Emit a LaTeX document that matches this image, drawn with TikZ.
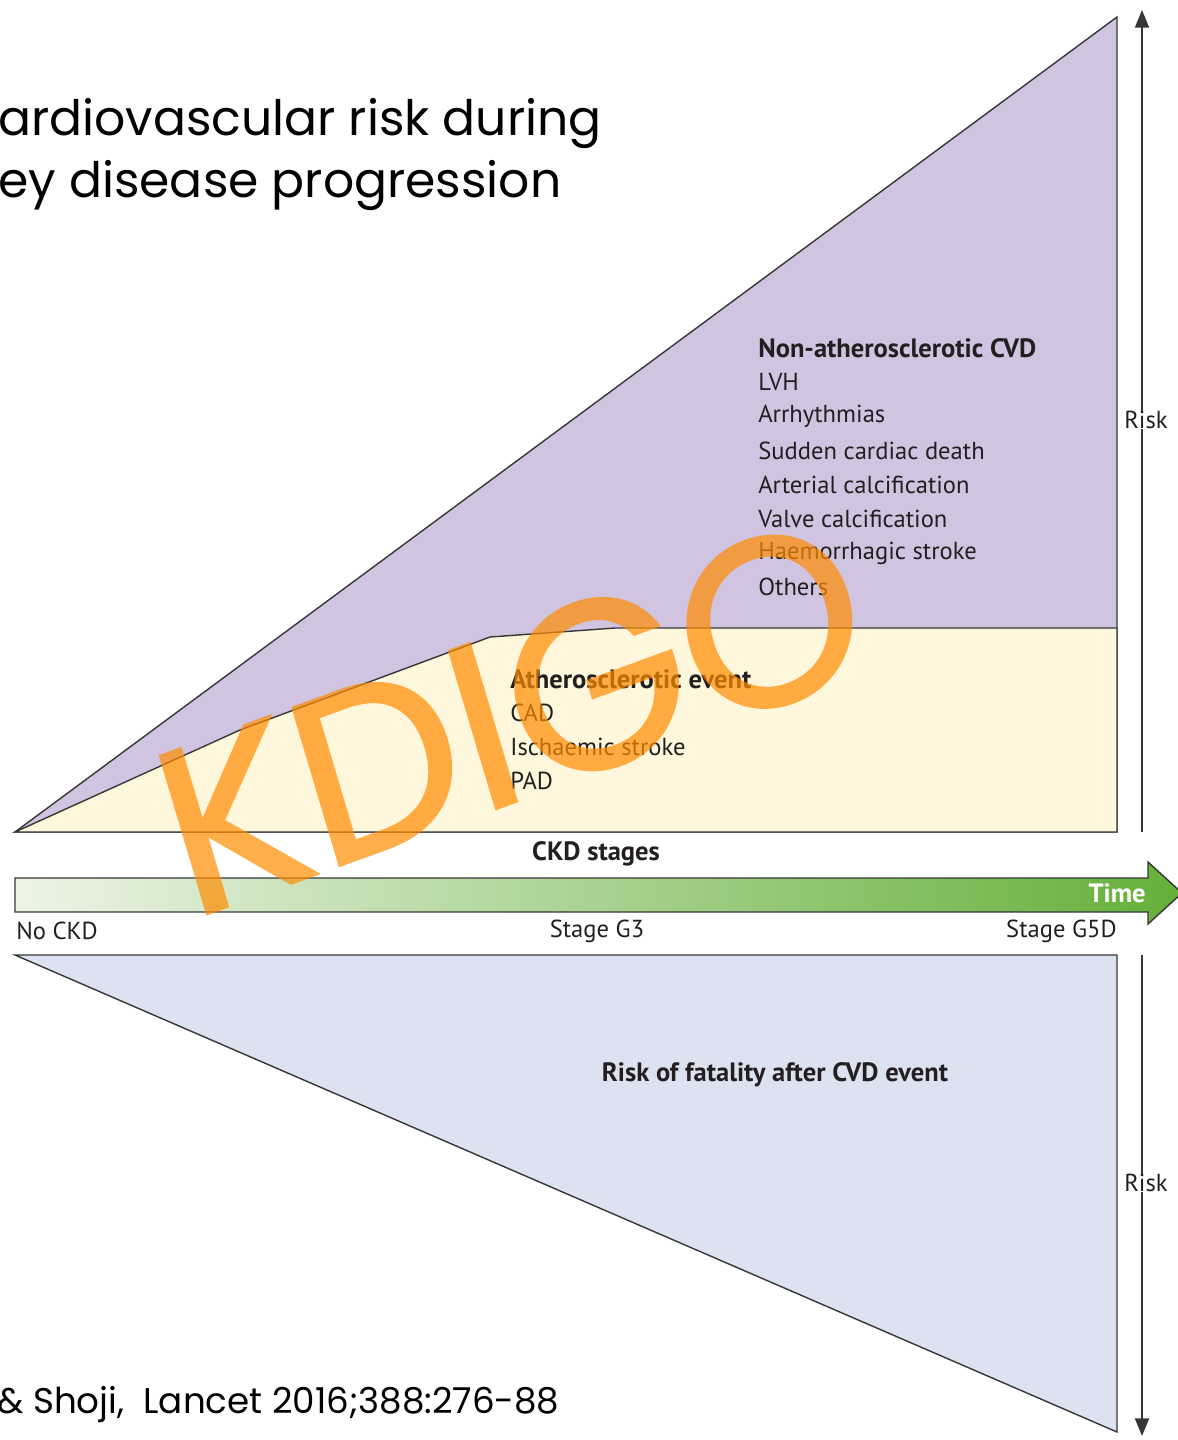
\documentclass[tikz,border=0pt]{standalone}
\usepackage{fontspec}
\setmainfont{PT Sans}
\newfontfamily\titlefont{Poppins}
\newfontfamily\markfont[FakeBold=1.2]{Poppins}
\usetikzlibrary{arrows.meta,calc}

\definecolor{nonathero}{RGB}{209,196,224}
\definecolor{athero}{RGB}{255,247,219}
\definecolor{fatal}{RGB}{221,226,240}
\definecolor{barleft}{RGB}{236,244,230}
\definecolor{barright}{RGB}{100,176,58}
\definecolor{edgegray}{RGB}{55,55,55}
\definecolor{txtdark}{RGB}{35,31,32}
\definecolor{kdigo}{RGB}{255,140,0}

\begin{document}
\begin{tikzpicture}[x=0.02cm,y=-0.02cm,
  outline/.style={draw=edgegray,line width=0.8pt},
  lbl/.style={anchor=west,inner sep=0pt,text=txtdark,font=\fontsize{14}{16}\selectfont},
  hdr/.style={lbl,font=\bfseries\fontsize{15.1}{17}\selectfont},
  riskarrow/.style={edgegray,line width=0.8pt,-{Triangle[length=10pt,width=8pt]}}]

\useasboundingbox (0,0) rectangle (1177,1440);

% rising risk of CVD
\filldraw[outline,fill=nonathero] (15,832) -- (1117,17) -- (1117,832) -- cycle;
\filldraw[outline,fill=athero] (15,832) -- (240,730) -- (490,637) -- (615,628) -- (1117,628) -- (1117,832) -- cycle;

\node[hdr] (nonath) at (758,348) {Non-atherosclerotic CVD};
\node[lbl] (lvh) at (758,382) {LVH};
\node[lbl] (arrh) at (758,416) {Arrhythmias};
\node[lbl] (scd) at (758,451) {Sudden cardiac death};
\node[lbl] (artcalc) at (758,485) {Arterial calcification};
\node[lbl] (valvecalc) at (758,519) {Valve calcification};
\node[lbl] (haem) at (758,553) {Haemorrhagic stroke};
\node[lbl] (others) at (758,587) {Others};

\node[hdr] (ath) at (510,679) {Atherosclerotic event};
\node[lbl] (cad) at (510,713) {CAD};
\node[lbl] (isch) at (510,747) {Ischaemic stroke};
\node[lbl] (pad) at (510,781) {PAD};

% time bar
\path[outline,left color=barleft,right color=barright] (15,878) -- (1148,878) -- (1148,862) -- (1182,893) -- (1148,924) -- (1148,912) -- (15,912) -- cycle;
\node[hdr,anchor=center] (ckd) at (596,854) {CKD stages};
\node[hdr,anchor=east,text=white] (time) at (1146,893) {Time};
\node[lbl] (nockd) at (16,931) {No CKD};
\node[lbl,anchor=center] (g3) at (597,931) {Stage G3};
\node[lbl,anchor=east] (g5d) at (1117,931) {Stage G5D};

% fatality
\filldraw[outline,fill=fatal] (15,955) -- (1117,955) -- (1117,1432) -- cycle;
\node[hdr,anchor=center] (fatality) at (775,1075) {Risk of fatality after CVD event};

% risk axes
\node[lbl,anchor=center] (riskup) at (1146,420) {Risk};
\coordinate (uptop) at (1142,10);
\coordinate (upbot) at (1142,832);
\draw[riskarrow] (riskup.north -| uptop) -- (uptop);
\draw[edgegray,line width=0.8pt] (riskup.south -| upbot) -- (upbot);

\node[lbl,anchor=center] (riskdown) at (1146,1183) {Risk};
\coordinate (downtop) at (1142,955);
\coordinate (downbot) at (1142,1436);
\draw[edgegray,line width=0.8pt] (riskdown.north -| downtop) -- (downtop);
\draw[riskarrow] (riskdown.south -| downbot) -- (downbot);

% slide text
\node[anchor=base west,inner sep=0pt,font=\titlefont\fontsize{27.8}{34}\selectfont] (title1) at (-2,135) {ardiovascular risk during};
\node[anchor=base west,inner sep=0pt,font=\titlefont\fontsize{27.8}{34}\selectfont] (title2) at (-2,197) {ey disease progression};
\node[anchor=base west,inner sep=0pt,font=\titlefont\fontsize{20.3}{24}\selectfont] (cite) at (-3,1413) {\& Shoji,~~Lancet 2016;388:276-88};

% watermark
\begin{scope}[transparency group,opacity=0.7]
\node[anchor=base west,inner sep=0pt,rotate=20,xslant=0.06,text=kdigo,font=\markfont\fontsize{134}{134}\selectfont] (kdigomark) at (190,920) {KDIGO};
\end{scope}

\end{tikzpicture}
\end{document}
